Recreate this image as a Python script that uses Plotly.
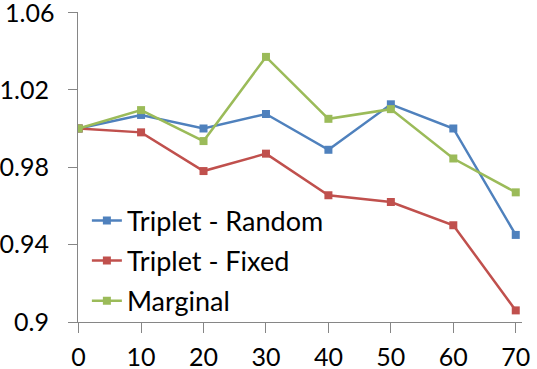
import plotly.graph_objects as go

# x positions (percent) shared by all series
x_vals = [0, 10, 20, 30, 40, 50, 60, 70]

# series values
triplet_random = [1.000, 1.007, 1.000, 1.0075, 0.989, 1.0125, 1.000, 0.945]
triplet_fixed = [1.000, 0.998, 0.978, 0.987, 0.9655, 0.962, 0.950, 0.906]
marginal = [1.000, 1.0095, 0.9935, 1.037, 1.005, 1.010, 0.9845, 0.967]

y_ticks = [0.9, 0.94, 0.98, 1.02, 1.06]
y_labels = ["0.9", "0.94", "0.98", "1.02", "1.06"]

series = [
    ("Triplet - Random", triplet_random, "#4F81BD"),
    ("Triplet - Fixed", triplet_fixed, "#C0504D"),
    ("Marginal", marginal, "#9BBB59"),
]

fig = go.Figure()
for name, vals, col in series:
    fig.add_trace(
        go.Scatter(
            x=x_vals,
            y=vals,
            name=name,
            legendgroup=name,  # own group each, so tracegroupgap spaces the rows
            mode="lines+markers",
            line=dict(color=col, width=2.5),
            marker=dict(symbol="square", size=8, color=col),
        )
    )

# plotly drops the top tick label (it pokes past the page edge),
# so that one is written as an annotation and the tick keeps an empty text
tick_text = [t if t != y_labels[-1] else "" for t in y_labels]
fig.add_annotation(
    x=0,
    xref="paper",
    y=y_ticks[-1],
    yref="y",
    text=y_labels[-1],
    showarrow=False,
    xanchor="right",
    yanchor="middle",
    xshift=-22,
    font=dict(size=25),
)

axis_col = "#868686"
fig.update_layout(
    width=537,
    height=369,
    margin=dict(l=78, r=15, t=12, b=47, autoexpand=False),
    paper_bgcolor="white",
    plot_bgcolor="white",
    font=dict(family="Lato, Open Sans, sans-serif", size=25, color="black"),
    showlegend=True,
    legend=dict(
        x=0.02,
        y=0.405,
        xanchor="left",
        yanchor="top",
        bgcolor="rgba(0,0,0,0)",
        font=dict(size=27),
        itemwidth=30,
        tracegroupgap=2,
    ),
    xaxis=dict(
        range=[-0.1, 71],
        tickvals=x_vals,
        showgrid=False,
        zeroline=False,
        showline=True,
        linecolor=axis_col,
        linewidth=1,
        ticks="outside",
        ticklen=10,
        tickcolor=axis_col,
        ticklabelstandoff=3,
        automargin=False,
    ),
    yaxis=dict(
        range=[0.9, 1.0602],
        tickvals=y_ticks,
        ticktext=tick_text,
        showgrid=False,
        zeroline=False,
        showline=True,
        linecolor=axis_col,
        linewidth=1,
        ticks="outside",
        ticklen=9,
        tickcolor=axis_col,
        ticklabelstandoff=14,
        automargin=False,
    ),
)

# the page adds a default body margin; drop it so the chart sits at 0,0
fig.write_html(
    "out.html",
    config={"displayModeBar": False},
    post_script="document.body.style.margin='0';",
)
